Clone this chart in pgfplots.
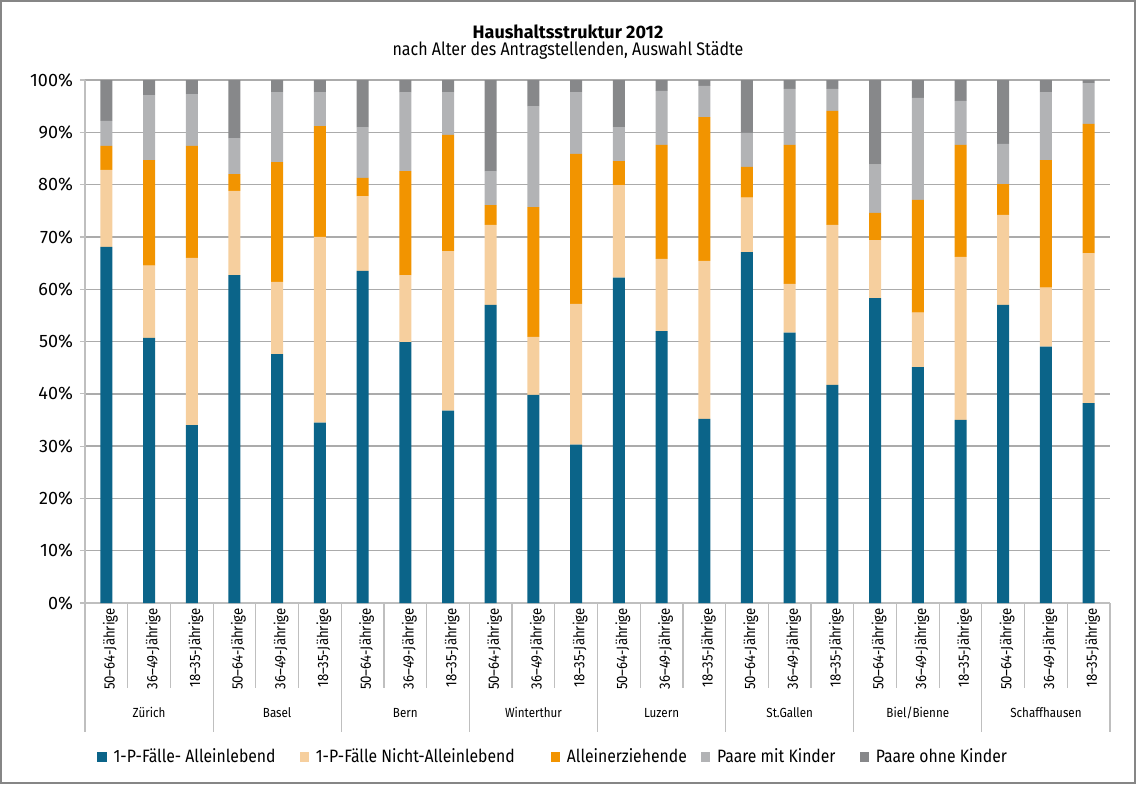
\documentclass[border=0pt]{standalone}
\usepackage{pgfplots}
\pgfplotsset{compat=1.18}
\usepackage{pgfplotstable}
\usepackage{fontspec}
\setmainfont{Fira Sans}[FakeStretch=0.88]
\newfontfamily\tickfont{Fira Sans}
\definecolor{cA}{HTML}{0B6489}
\definecolor{cB}{HTML}{F6CF9E}
\definecolor{cC}{HTML}{F29400}
\definecolor{cD}{HTML}{B2B3B5}
\definecolor{cE}{HTML}{87888A}
\definecolor{gridc}{HTML}{ABABAB}
\definecolor{sepc}{HTML}{BFBFBF}
\definecolor{framec}{HTML}{868686}

\pgfplotstableread{
x a b c d e
0 68.1 14.7 4.6 4.8 7.8
1 50.7 13.8 20.2 12.4 2.9
2 34.0 32.0 21.4 9.9 2.7
3 62.7 16.1 3.2 6.9 11.1
4 47.6 13.8 22.9 13.4 2.3
5 34.5 35.5 21.2 6.5 2.3
6 63.5 14.3 3.5 9.7 9.0
7 49.9 12.8 19.9 15.1 2.3
8 36.8 30.5 22.2 8.2 2.3
9 57.0 15.3 3.8 6.5 17.4
10 39.8 11.1 24.8 19.3 5.0
11 30.3 26.9 28.7 11.8 2.3
12 62.2 17.7 4.6 6.5 9.0
13 52.0 13.8 21.8 10.3 2.1
14 35.2 30.2 27.5 6.0 1.1
15 67.1 10.4 5.9 6.5 10.1
16 51.7 9.3 26.6 10.7 1.7
17 41.7 30.6 21.8 4.2 1.7
18 58.3 11.1 5.2 9.2 16.2
19 45.1 10.4 21.6 19.5 3.4
20 35.0 31.2 21.4 8.4 4.0
21 57.0 17.2 5.9 7.7 12.2
22 49.0 11.3 24.4 13.0 2.3
23 38.2 28.7 24.7 7.8 0.6
}\datatable

\begin{document}
\begin{tikzpicture}
\begin{axis}[
  at={(0,0)}, anchor=south west,
  scale only axis, width=512.5pt, height=261.5pt,
  ybar stacked, bar width=6pt,
  xmin=-0.5, xmax=23.5, ymin=0, ymax=100,
  xtick={0,...,23},
  xticklabels={50–64-Jährige,36–49-Jährige,18–35-Jährige,50–64-Jährige,36–49-Jährige,18–35-Jährige,50–64-Jährige,36–49-Jährige,18–35-Jährige,50–64-Jährige,36–49-Jährige,18–35-Jährige,50–64-Jährige,36–49-Jährige,18–35-Jährige,50–64-Jährige,36–49-Jährige,18–35-Jährige,50–64-Jährige,36–49-Jährige,18–35-Jährige,50–64-Jährige,36–49-Jährige,18–35-Jährige},
  xticklabel style={rotate=90, anchor=east, font=\fontsize{7.5}{8}\selectfont, inner sep=0pt, yshift=-2pt},
  major x tick style={draw=none},
  ytick={0,10,...,100},
  yticklabel={\pgfmathprintnumber{\tick}\%},
  yticklabel style={font=\tickfont\fontsize{9}{10}\selectfont},
  /pgf/number format/assume math mode=true,
  ymajorgrids, grid style={gridc, line width=0.7pt},
  axis x line*=bottom, axis y line*=left,
  axis line style={sepc, line width=0.6pt},
  every outer x axis line/.append style={-},
  every outer y axis line/.append style={-},
  every inner x axis line/.append style={-},
  every inner y axis line/.append style={-},
  tick align=outside, major tick length=2.5pt,
  y tick style={sepc, line width=0.6pt},
  legend style={at={(axis description cs:0.0117,-0.2945)}, anchor=west,
    legend columns=-1, draw=none, inner sep=0pt,
    font=\fontsize{8.95}{10}\selectfont,
    /tikz/every odd column/.append style={column sep=1.5pt},
    /tikz/every even column/.append style={column sep=10pt}},
  legend cell align=left,
]
\addplot[fill=cA, draw=none, legend image code/.code={\fill[cA] (0pt,-2.3pt) rectangle (4.6pt,2.3pt);}] table[x=x,y=a] \datatable;
\addplot[fill=cB, draw=none, legend image code/.code={\fill[cB] (0pt,-2.3pt) rectangle (4.6pt,2.3pt);}] table[x=x,y=b] \datatable;
\addplot[fill=cC, draw=none, legend image code/.code={\fill[cC] (0pt,-2.3pt) rectangle (4.6pt,2.3pt);}] table[x=x,y=c] \datatable;
\addplot[fill=cD, draw=none, legend image code/.code={\fill[cD] (0pt,-2.3pt) rectangle (4.6pt,2.3pt);}] table[x=x,y=d] \datatable;
\addplot[fill=cE, draw=none, legend image code/.code={\fill[cE] (0pt,-2.3pt) rectangle (4.6pt,2.3pt);}] table[x=x,y=e] \datatable;
\legend{1-P-Fälle- Alleinlebend,1-P-Fälle Nicht-Alleinlebend\rule{6pt}{0pt},\makebox[\dimexpr\width-5pt\relax][l]{Alleinerziehende},Paare mit Kinder,Paare ohne Kinder}
\end{axis}
\foreach \k in {1,2,4,5,7,8,10,11,13,14,16,17,19,20,22,23}{
  \draw[sepc, line width=0.6pt] ({\k*21.3542pt},0) -- ({\k*21.3542pt},-42.5pt);
}
\foreach \k in {0,3,6,9,12,15,18,21,24}{
  \draw[sepc, line width=0.6pt] ({\k*21.3542pt},0) -- ({\k*21.3542pt},-64.5pt);
}
\foreach \n [count=\i from 0] in {Zürich,Basel,Bern,Winterthur,Luzern,St.Gallen,Biel/Bienne,Schaffhausen}{
  \node[anchor=base, font=\fontsize{6.6}{8}\selectfont, inner sep=0pt] at ({(3*\i+1.5)*21.3542pt},-57pt) {\n};
}
\node[anchor=base, font=\tickfont\bfseries\fontsize{9}{10}\selectfont, inner sep=0pt] at (241.5pt,282.5pt) {Haushaltsstruktur 2012};
\node[anchor=base, font=\fontsize{9.1}{10}\selectfont, inner sep=0pt] at (241.5pt,274pt) {nach Alter des Antragstellenden, Auswahl Städte};
\draw[framec, line width=1pt] (-42pt,-90pt) rectangle (525pt,301pt);
\end{tikzpicture}
\end{document}
